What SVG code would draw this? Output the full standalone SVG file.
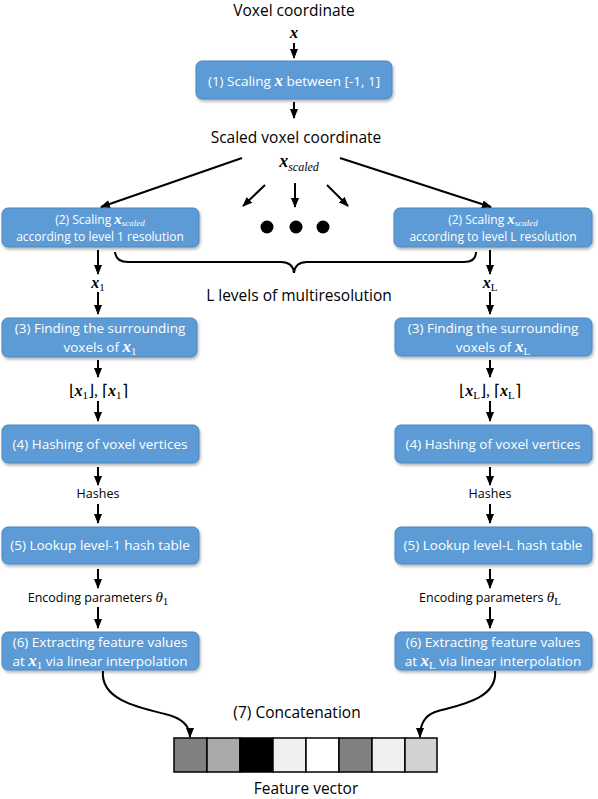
<svg xmlns="http://www.w3.org/2000/svg" width="598" height="799" viewBox="0 0 598 799">
<defs>
<marker id="ah" markerUnits="userSpaceOnUse" markerWidth="10" markerHeight="10" viewBox="0 0 10 10" refX="9" refY="5" orient="auto">
<path d="M0,1 L10,5 L0,9 Z" fill="#000"/>
</marker>
<filter id="sh" x="-10%" y="-20%" width="120%" height="150%">
<feDropShadow dx="1" dy="2" stdDeviation="1.5" flood-color="#000" flood-opacity="0.3"/>
</filter>
</defs>
<style>
.box{fill:#5b9bd5;stroke:#4a86c0;stroke-width:1;filter:url(#sh)}
.bt{font-family:"Open Sans",sans-serif;font-size:13.5px;fill:#fff;text-anchor:middle}
.bt2{font-family:"Open Sans",sans-serif;font-size:12px;fill:#fff;text-anchor:middle}
.lbl{font-family:"Open Sans",sans-serif;font-size:15.5px;fill:#000;text-anchor:middle}
.sl{font-family:"Open Sans",sans-serif;font-size:12.5px;fill:#000;text-anchor:middle}
.m{font-family:"Liberation Serif",serif;font-style:italic;font-weight:bold}
.sub{font-family:"Liberation Serif",serif;font-style:italic;font-weight:normal}
.subr{font-family:"Liberation Serif",serif;font-style:normal;font-weight:normal}
.ln{stroke:#000;stroke-width:2;fill:none}
.ar{stroke:#000;stroke-width:2;fill:none;marker-end:url(#ah)}
.cell{stroke:#000;stroke-width:1.5}
</style>

<g id="top-labels">
<text class="lbl" x="294" y="16">Voxel coordinate</text>
<text x="294" y="38" class="m" font-size="17" text-anchor="middle">x</text>
<text class="lbl" x="296" y="143">Scaled voxel coordinate</text>
<text x="299" y="167" text-anchor="middle"><tspan class="m" font-size="18">x</tspan><tspan class="sub" font-size="12" dy="4">scaled</tspan></text>
</g>

<g id="node1">
<rect class="box" x="196" y="61" width="196" height="38" rx="6"/>
<text class="bt" x="294" y="86">(1) Scaling <tspan class="m" font-size="17">x</tspan> between [-1, 1]</text>
</g>

<g id="node2-left">
<rect class="box" x="2" y="208" width="197" height="39" rx="6"/>
<text class="bt2" x="100" y="224">(2) Scaling <tspan class="m" font-size="15">x</tspan><tspan class="sub" font-size="9" dy="1.5">scaled</tspan></text>
<text class="bt2" x="100" y="241">according to level 1 resolution</text>
</g>
<g id="node2-right">
<rect class="box" x="394" y="208" width="198" height="39" rx="6"/>
<text class="bt2" x="493" y="224">(2) Scaling <tspan class="m" font-size="15">x</tspan><tspan class="sub" font-size="9" dy="1.5">scaled</tspan></text>
<text class="bt2" x="493" y="241">according to level L resolution</text>
</g>

<g id="dots">
<circle cx="267" cy="227" r="6.5" fill="#000"/>
<circle cx="296" cy="227" r="6.5" fill="#000"/>
<circle cx="323" cy="227" r="6.5" fill="#000"/>
</g>

<g id="brace">
<path class="ln" d="M115,252 Q116,262 128,262 L281,262 Q293,262 294,273 Q295,262 307,262 L464,262 Q476,262 476,252"/>
<text class="lbl" x="299" y="301">L levels of multiresolution</text>
</g>

<g id="left-labels">
<text x="98" y="288" text-anchor="middle"><tspan class="m" font-size="16">x</tspan><tspan class="subr" font-size="11" dy="3">1</tspan></text>
<text x="98" y="396" text-anchor="middle" font-family="Liberation Serif,serif" font-size="16">⌊<tspan class="m">x</tspan><tspan class="subr" font-size="11" dy="3">1</tspan><tspan dy="-3">⌋, ⌈</tspan><tspan class="m">x</tspan><tspan class="subr" font-size="11" dy="3">1</tspan><tspan dy="-3">⌉</tspan></text>
<text class="sl" x="98" y="498">Hashes</text>
<text class="sl" x="98" y="602">Encoding parameters <tspan font-family="Liberation Serif,serif" font-style="italic" font-size="15">θ</tspan><tspan class="subr" font-size="11" dy="3">1</tspan></text>
</g>
<g id="right-labels">
<text x="490" y="288" text-anchor="middle"><tspan class="m" font-size="16">x</tspan><tspan class="subr" font-size="11" dy="3">L</tspan></text>
<text x="490" y="396" text-anchor="middle" font-family="Liberation Serif,serif" font-size="16">⌊<tspan class="m">x</tspan><tspan class="subr" font-size="11" dy="3">L</tspan><tspan dy="-3">⌋, ⌈</tspan><tspan class="m">x</tspan><tspan class="subr" font-size="11" dy="3">L</tspan><tspan dy="-3">⌉</tspan></text>
<text class="sl" x="490" y="498">Hashes</text>
<text class="sl" x="490" y="602">Encoding parameters <tspan font-family="Liberation Serif,serif" font-style="italic" font-size="15">θ</tspan><tspan class="subr" font-size="11" dy="3">L</tspan></text>
</g>

<g id="node3-left">
<rect class="box" x="2" y="318" width="195" height="39" rx="6"/>
<text class="bt" x="100" y="333">(3) Finding the surrounding</text>
<text class="bt" x="100" y="352">voxels of <tspan class="m" font-size="17">x</tspan><tspan class="subr" font-size="11" dy="3">1</tspan></text>
</g>
<g id="node3-right">
<rect class="box" x="395" y="318" width="197" height="38" rx="6"/>
<text class="bt" x="493" y="333">(3) Finding the surrounding</text>
<text class="bt" x="493" y="352">voxels of <tspan class="m" font-size="17">x</tspan><tspan class="subr" font-size="11" dy="3">L</tspan></text>
</g>

<g id="node4-left">
<rect class="box" x="2" y="425" width="197" height="38" rx="6"/>
<text class="bt" x="100" y="449">(4) Hashing of voxel vertices</text>
</g>
<g id="node4-right">
<rect class="box" x="395" y="425" width="197" height="38" rx="6"/>
<text class="bt" x="493" y="449">(4) Hashing of voxel vertices</text>
</g>

<g id="node5-left">
<rect class="box" x="2" y="527" width="197" height="37" rx="6"/>
<text class="bt" x="100" y="550">(5) Lookup level-1 hash table</text>
</g>
<g id="node5-right">
<rect class="box" x="395" y="527" width="197" height="37" rx="6"/>
<text class="bt" x="493" y="550">(5) Lookup level-L hash table</text>
</g>

<g id="node6-left">
<rect class="box" x="2" y="632" width="197" height="38" rx="6"/>
<text class="bt" x="100" y="647">(6) Extracting feature values</text>
<text class="bt" x="100" y="666">at <tspan class="m" font-size="17">x</tspan><tspan class="subr" font-size="11" dy="3">1</tspan><tspan dy="-3"> via linear interpolation</tspan></text>
</g>
<g id="node6-right">
<rect class="box" x="395" y="632" width="197" height="38" rx="6"/>
<text class="bt" x="493" y="647">(6) Extracting feature values</text>
<text class="bt" x="493" y="666">at <tspan class="m" font-size="17">x</tspan><tspan class="subr" font-size="11" dy="3">L</tspan><tspan dy="-3"> via linear interpolation</tspan></text>
</g>

<g id="concat">
<text class="lbl" x="297" y="718">(7) Concatenation</text>
<rect class="cell" x="174" y="738" width="33" height="34" fill="#808080"/>
<rect class="cell" x="207" y="738" width="33" height="34" fill="#aba9a7"/>
<rect class="cell" x="240" y="738" width="33" height="34" fill="#000"/>
<rect class="cell" x="273" y="738" width="33" height="34" fill="#f0f0f0"/>
<rect class="cell" x="306" y="738" width="33" height="34" fill="#fff"/>
<rect class="cell" x="339" y="738" width="33" height="34" fill="#808080"/>
<rect class="cell" x="372" y="738" width="33" height="34" fill="#f0f0f0"/>
<rect class="cell" x="405" y="738" width="32" height="34" fill="#d2d2d2"/>
<text class="lbl" x="306" y="794">Feature vector</text>
</g>

<g id="connectors">
<line class="ar" x1="294" y1="43" x2="294" y2="58"/>
<line class="ar" x1="294" y1="102" x2="294" y2="118"/>
<line class="ar" x1="242" y1="158" x2="101" y2="207"/>
<line class="ar" x1="340" y1="158" x2="491" y2="207"/>
<line class="ar" x1="265" y1="185" x2="243" y2="206"/>
<line class="ar" x1="295" y1="183" x2="295" y2="207"/>
<line class="ar" x1="327" y1="185" x2="348" y2="206"/>

<line class="ar" x1="98" y1="250" x2="98" y2="274"/>
<line class="ar" x1="98" y1="292" x2="98" y2="314"/>
<line class="ar" x1="98" y1="360" x2="98" y2="377"/>
<line class="ar" x1="98" y1="401" x2="98" y2="421"/>
<line class="ar" x1="98" y1="467" x2="98" y2="485"/>
<line class="ar" x1="98" y1="504" x2="98" y2="523"/>
<line class="ar" x1="98" y1="569" x2="98" y2="588"/>
<line class="ar" x1="98" y1="607" x2="98" y2="628"/>

<line class="ar" x1="490" y1="250" x2="490" y2="274"/>
<line class="ar" x1="490" y1="292" x2="490" y2="314"/>
<line class="ar" x1="490" y1="360" x2="490" y2="377"/>
<line class="ar" x1="490" y1="401" x2="490" y2="421"/>
<line class="ar" x1="490" y1="467" x2="490" y2="485"/>
<line class="ar" x1="490" y1="504" x2="490" y2="523"/>
<line class="ar" x1="490" y1="569" x2="490" y2="588"/>
<line class="ar" x1="490" y1="607" x2="490" y2="628"/>

<path class="ar" d="M103,671 C100,700 140,708 165,714 C182,718 190,726 190,737"/>
<path class="ar" d="M495,671 C498,700 455,706 435,712 C424,716 420,726 420,737"/>
</g>
</svg>
